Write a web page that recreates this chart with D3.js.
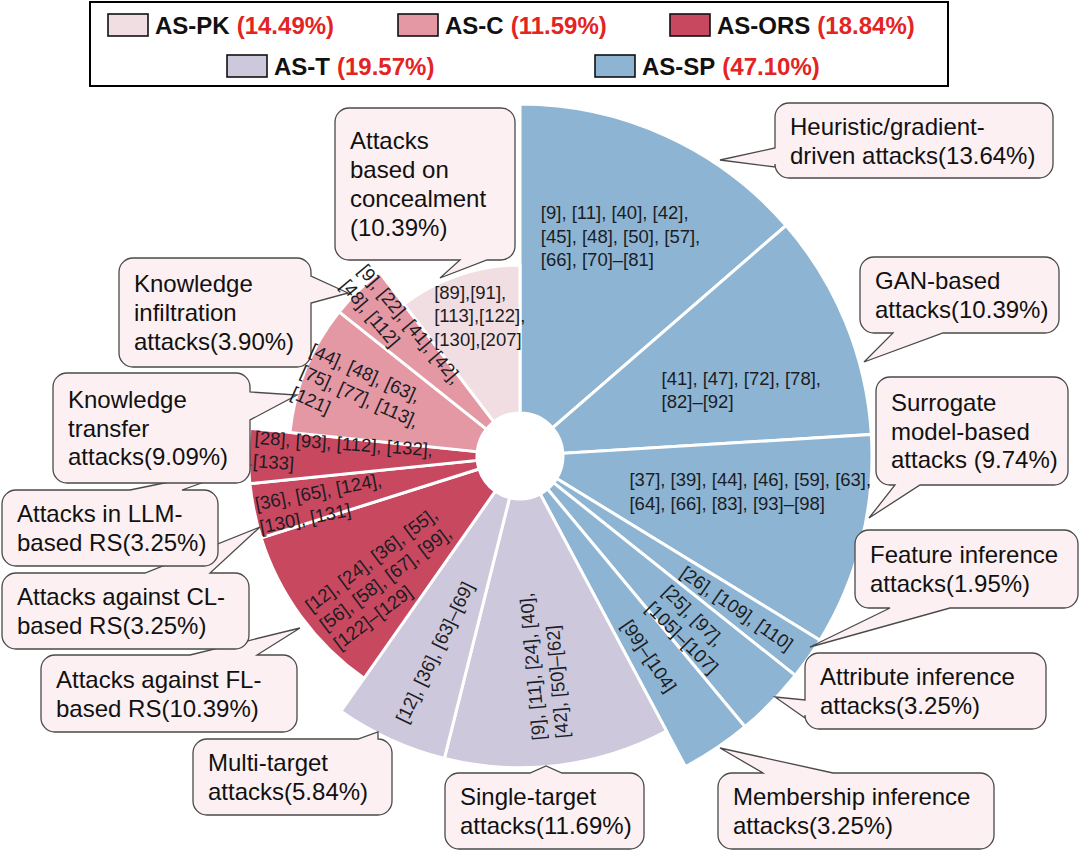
<!DOCTYPE html>
<html><head><meta charset="utf-8">
<script src="https://cdn.jsdelivr.net/npm/d3@7"></script>
<style>body{margin:0;background:#fff} svg{display:block}</style>
</head><body>
<svg id="chart" width="1080" height="851"></svg>
<script>
// ---------------- DATA ----------------
const categories = ["AS-PK", "AS-C", "AS-ORS", "AS-T", "AS-SP"];
const categoryShares = ["14.49%", "11.59%", "18.84%", "19.57%", "47.10%"];
const categoryLevels = [1, 2, 3, 4, 5];

const attackNames = [
  "Heuristic/gradient-driven attacks", "GAN-based attacks", "Surrogate model-based attacks",
  "Feature inference attacks", "Attribute inference attacks", "Membership inference attacks",
  "Single-target attacks", "Multi-target attacks",
  "Attacks against FL-based RS", "Attacks against CL-based RS", "Attacks in LLM-based RS",
  "Knowledge transfer attacks", "Knowledge infiltration attacks",
  "Attacks based on concealment"
];
const attackShares = [13.64, 10.39, 9.74, 1.95, 3.25, 3.25, 11.69, 5.84, 10.39, 3.25, 3.25, 9.09, 3.90, 10.39];
const attackCategories = ["AS-SP", "AS-SP", "AS-SP", "AS-SP", "AS-SP", "AS-SP", "AS-T", "AS-T",
  "AS-ORS", "AS-ORS", "AS-ORS", "AS-C", "AS-C", "AS-PK"];
const attackRefs = [
  ["[9], [11], [40], [42],", "[45], [48], [50], [57],", "[66], [70]–[81]"],
  ["[41], [47], [72], [78],", "[82]–[92]"],
  ["[37], [39], [44], [46], [59], [63],", "[64], [66], [83], [93]–[98]"],
  ["[26], [109], [110]"],
  ["[25], [97],", "[105]–[107]"],
  ["[99]–[104]"],
  ["[9], [11], [24], [40],", "[42], [50]–[62]"],
  ["[12], [36], [63]–[69]"],
  ["[12], [24], [36], [55],", "[56], [58], [67], [99],", "[122]–[129]"],
  ["[36], [65], [124],", "[130], [131]"],
  ["[28], [93], [112], [132],", "[133]"],
  ["[44], [48], [63],", "[75], [77], [113],", "[121]"],
  ["[9], [22], [41], [42],", "[48], [112]"],
  ["[89],[91],", "[113],[122],", "[130],[207]"]
];
const calloutLines = [
  ["Heuristic/gradient-", "driven attacks(13.64%)"],
  ["GAN-based", "attacks(10.39%)"],
  ["Surrogate", "model-based", "attacks (9.74%)"],
  ["Feature inference", "attacks(1.95%)"],
  ["Attribute inference", "attacks(3.25%)"],
  ["Membership inference", "attacks(3.25%)"],
  ["Single-target", "attacks(11.69%)"],
  ["Multi-target", "attacks(5.84%)"],
  ["Attacks against FL-", "based RS(10.39%)"],
  ["Attacks against CL-", "based RS(3.25%)"],
  ["Attacks in LLM-", "based RS(3.25%)"],
  ["Knowledge", "transfer", "attacks(9.09%)"],
  ["Knowledge", "infiltration", "attacks(3.90%)"],
  ["Attacks", "based on", "concealment", "(10.39%)"]
];

// ---------------- STYLE / LAYOUT ----------------
const FONT = "'Liberation Sans', Arial, Helvetica, sans-serif";
const categoryColors = {"AS-PK": "#f0dee2", "AS-C": "#e398a4", "AS-ORS": "#c8485f", "AS-T": "#cdc8dc", "AS-SP": "#8db5d3"};
const cx = 520, cy = 456, innerR = 43;

const labelLayout = [
  {r: 242, da: 0, rot: 0}, {r: 231, da: 5.5, rot: 0}, {r: 233, da: -5.3, rot: 0},
  {r: 265, da: 0, rot: 35}, {r: 243, da: 1, rot: 45}, {r: 238, da: 1, rot: 56},
  {r: 211, da: 0.5, rot: -95}, {r: 214, da: -1, rot: -64},
  {r: 182, da: -6, rot: -37}, {r: 205, da: -1.6, rot: -11}, {r: 177, da: 0.3, rot: 4},
  {r: 171, da: -1.7, rot: 24}, {r: 172, da: 0.8, rot: 50}, {r: 146, da: 2.7, rot: 0}
];
const calloutLayout = [
  {x: 775, y: 103, w: 278, h: 75, side: "left", b: [148, 167], tip: [720, 160]},
  {x: 860, y: 257, w: 199, h: 76, side: "bottom", b: [893, 943], tip: [864, 362]},
  {x: 876, y: 377, w: 192, h: 108, side: "bottom", b: [895, 920], tip: [869, 518]},
  {x: 855, y: 530, w: 223, h: 78, side: "bottom", b: [890, 950], tip: [810, 647]},
  {x: 805, y: 653, w: 241, h: 76, side: "left", b: [700, 718], tip: [775, 697]},
  {x: 718, y: 773, w: 276, h: 76, side: "top", b: [763, 833], tip: [720, 748]},
  {x: 445, y: 773, w: 199, h: 76, side: "top", b: [530, 562], tip: [546, 766]},
  {x: 193, y: 739, w: 199, h: 76, side: "top", b: [358, 378], tip: [378, 732]},
  {x: 41, y: 655, w: 256, h: 77, side: "top", b: [190, 257], tip: [300, 628]},
  {x: 2, y: 573, w: 247, h: 76, side: "top", b: [145, 210], tip: [260, 527]},
  {x: 2, y: 490, w: 216, h: 76, side: "top", b: [130, 182], tip: [252, 465]},
  {x: 53, y: 373, w: 197, h: 110, side: "right", b: [392, 420], tip: [297, 395]},
  {x: 119, y: 258, w: 192, h: 109, side: "right", b: [276, 303], tip: [348, 293]},
  {x: 335, y: 108, w: 180, h: 152, side: "bottom", b: [460, 487], tip: [440, 278]}
];
const legendLayout = [
  {x: 108, y: 14}, {x: 398, y: 14}, {x: 670, y: 14}, {x: 227, y: 55}, {x: 595, y: 55}
];

// ---------------- CHART ----------------
const svg = d3.select("#chart");
const attacks = attackNames.map((n, i) => ({
  name: n, share: attackShares[i], cat: attackCategories[i], refs: attackRefs[i], idx: i
}));

const rScale = d3.scaleLinear().domain([1, 5]).range([191, 352]);
const levelOf = c => categoryLevels[categories.indexOf(c)];

const pie = d3.pie().value(d => d.share).sort(null).startAngle(0).endAngle(2 * Math.PI);
const arcs = pie(attacks);
const arc = d3.arc().innerRadius(innerR).outerRadius(d => rScale(levelOf(d.data.cat)));

const g = svg.append("g").attr("transform", `translate(${cx},${cy})`);
g.selectAll("path.slice").data(arcs).join("path")
  .attr("class", "slice")
  .attr("d", arc)
  .attr("fill", d => categoryColors[d.data.cat])
  .attr("stroke", "#fff").attr("stroke-width", 3).attr("stroke-linejoin", "miter");

// callouts
function calloutPath(c) {
  const {x, y, w, h, side, b, tip} = c, r = 14;
  const lo = Math.min(b[0], b[1]), hi = Math.max(b[0], b[1]);
  let p = `M${x + r},${y}`;
  if (side === "top") p += `L${lo},${y}L${tip[0]},${tip[1]}L${hi},${y}`;
  p += `L${x + w - r},${y}A${r},${r} 0 0 1 ${x + w},${y + r}`;
  if (side === "right") p += `L${x + w},${lo}L${tip[0]},${tip[1]}L${x + w},${hi}`;
  p += `L${x + w},${y + h - r}A${r},${r} 0 0 1 ${x + w - r},${y + h}`;
  if (side === "bottom") p += `L${hi},${y + h}L${tip[0]},${tip[1]}L${lo},${y + h}`;
  p += `L${x + r},${y + h}A${r},${r} 0 0 1 ${x},${y + h - r}`;
  if (side === "left") p += `L${x},${hi}L${tip[0]},${tip[1]}L${x},${lo}`;
  p += `L${x},${y + r}A${r},${r} 0 0 1 ${x + r},${y}Z`;
  return p;
}
const CFS = 24, CLH = 28.8;
const cg = svg.append("g");
calloutLayout.forEach((c, i) => {
  cg.append("path").attr("d", calloutPath(c))
    .attr("fill", "#fcf0f2").attr("stroke", "#4a4a4a").attr("stroke-width", 1.3);
  const lines = calloutLines[i], n = lines.length;
  const mid = c.y + c.h / 2;
  cg.selectAll(null).data(lines).join("text")
    .attr("x", c.x + 15)
    .attr("y", (t, k) => mid + (k - (n - 1) / 2) * CLH)
    .attr("dy", "0.36em")
    .attr("font-family", FONT).attr("font-size", CFS).attr("fill", "#111")
    .text(t => t);
});

// slice reference labels
const LFS = 18.5, LLH = 23.5;
const lgAll = svg.append("g").attr("transform", `translate(${cx},${cy})`);
arcs.forEach((d, i) => {
  const L = labelLayout[i];
  const a = (d.startAngle + d.endAngle) / 2 + L.da * Math.PI / 180;
  const x = L.r * Math.sin(a), y = -L.r * Math.cos(a);
  const lg = lgAll.append("g").attr("transform", `translate(${x},${y}) rotate(${L.rot})`);
  const n = d.data.refs.length;
  const texts = lg.selectAll("text").data(d.data.refs).join("text")
    .attr("y", (t, k) => (k - (n - 1) / 2) * LLH)
    .attr("dy", "0.36em")
    .attr("font-family", FONT).attr("font-size", LFS).attr("fill", "#1c1c24")
    .text(t => t);
  let maxW = 0;
  texts.each(function () { maxW = Math.max(maxW, this.getComputedTextLength()); });
  texts.attr("x", -maxW / 2);
});

// legend
const leg = svg.append("g");
leg.append("rect").attr("x", 90).attr("y", 2).attr("width", 858).attr("height", 84)
  .attr("fill", "#fff").attr("stroke", "#000").attr("stroke-width", 2);
categories.forEach((c, i) => {
  const L = legendLayout[i];
  leg.append("rect").attr("x", L.x).attr("y", L.y).attr("width", 40).attr("height", 22)
    .attr("fill", categoryColors[c]).attr("stroke", "#111").attr("stroke-width", 1.6);
  const t = leg.append("text").attr("x", L.x + 47).attr("y", L.y + 11).attr("dy", "0.36em")
    .attr("font-family", FONT).attr("font-size", 24).attr("font-weight", "bold");
  t.append("tspan").attr("fill", "#111").text(c);
  t.append("tspan").attr("fill", "#e42323").attr("dx", 7).text(`(${categoryShares[i]})`);
});
</script>
</body></html>
